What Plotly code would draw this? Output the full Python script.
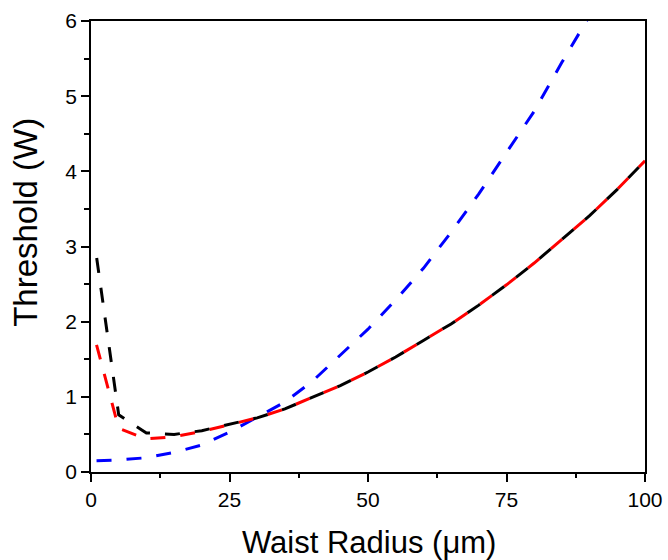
import math
import plotly.graph_objects as go

# Data
x_rb = [1, 5, 10, 15, 20, 25, 30, 35, 40, 45, 50, 55, 60, 65, 70, 75, 80, 85, 90, 95, 100]
red_y = [1.69, 0.58, 0.44, 0.47, 0.54, 0.63, 0.72, 0.84, 0.99, 1.15, 1.33, 1.53, 1.75,
         1.97, 2.22, 2.49, 2.78, 3.09, 3.41, 3.76, 4.14]
black_y = [2.86, 0.76, 0.52, 0.50, 0.55, 0.63, 0.72, 0.84, 0.99, 1.15, 1.33, 1.53, 1.75,
           1.97, 2.22, 2.49, 2.78, 3.09, 3.41, 3.76, 4.14]
x_blue = [1, 5, 10, 15, 20, 25, 30, 35, 40, 45, 50, 55, 60, 65, 70, 75, 80, 85, 90]
blue_y = [0.15, 0.16, 0.19, 0.26, 0.36, 0.53, 0.73, 0.93, 1.21, 1.55, 1.90, 2.29, 2.71,
          3.19, 3.70, 4.25, 4.80, 5.45, 6.07]

x_ticks = [0, 25, 50, 75, 100]
y_ticks = [0, 1, 2, 3, 4, 5, 6]

FONT = "Liberation Sans, Arial, Helvetica, sans-serif"

W, H = 668, 560
ML, MR, MT, MB = 91, 23, 21, 88
PW, PH = W - ML - MR, H - MT - MB
XR, YR = (0, 100), (0, 6)
DASH = 15.0


def arc_len(xs, ys, upto):
    """Pixel arc length of a polyline from start to index `upto`."""
    sx = PW / (XR[1] - XR[0])
    sy = PH / (YR[1] - YR[0])
    total = 0.0
    for i in range(upto):
        total += math.hypot((xs[i + 1] - xs[i]) * sx, (ys[i + 1] - ys[i]) * sy)
    return total


# shift the black dash pattern so that it fills the gaps of the red one where they coincide
merge = x_rb.index(25)
diff = arc_len(x_rb, black_y, merge) - arc_len(x_rb, red_y, merge)
s = (DASH - diff) % (2 * DASH)
if s < DASH:
    black_dash = f"{DASH - s:.2f}px,{DASH:.2f}px,{s:.2f}px,0px"
else:
    t = s - DASH
    black_dash = f"0px,{DASH - t:.2f}px,{DASH:.2f}px,{t:.2f}px"
plain_dash = f"{DASH}px,{DASH}px"

fig = go.Figure()
fig.add_trace(go.Scatter(x=x_blue, y=blue_y, mode="lines",
                         line=dict(color="#0000ff", width=3, dash=plain_dash),
                         showlegend=False))
fig.add_trace(go.Scatter(x=x_rb, y=red_y, mode="lines",
                         line=dict(color="#ff0000", width=3, dash=plain_dash),
                         showlegend=False))
fig.add_trace(go.Scatter(x=x_rb, y=black_y, mode="lines",
                         line=dict(color="#000000", width=3, dash=black_dash),
                         showlegend=False))

axis_common = dict(
    showline=True, linecolor="black", linewidth=1.5, mirror=True,
    ticks="outside", ticklen=8, tickwidth=1.5, tickcolor="black",
    showgrid=False, zeroline=False, automargin=False,
    tickfont=dict(family=FONT, size=21, color="black"),
)

fig.update_layout(
    width=W, height=H,
    margin=dict(l=ML, r=MR, t=MT, b=MB),
    paper_bgcolor="white", plot_bgcolor="white",
    xaxis=dict(range=list(XR), tickvals=x_ticks,
               minor=dict(dtick=12.5, ticks="outside", ticklen=4, tickwidth=1.5, tickcolor="black"),
               **axis_common),
    yaxis=dict(range=list(YR), tickvals=y_ticks,
               minor=dict(dtick=0.5, ticks="outside", ticklen=5, tickwidth=1.5, tickcolor="black"),
               **axis_common),
    annotations=[
        dict(text="Waist Radius (μm)", xref="paper", yref="paper", x=0.502, y=-0.157,
             xanchor="center", yanchor="middle", showarrow=False,
             font=dict(family=FONT, size=31, color="black")),
        dict(text="Threshold (W)", xref="paper", yref="paper", x=-0.1197, y=0.554,
             xanchor="center", yanchor="middle", showarrow=False, textangle=-90,
             font=dict(family=FONT, size=33, color="black")),
    ],
)

fig.write_html("out.html")
